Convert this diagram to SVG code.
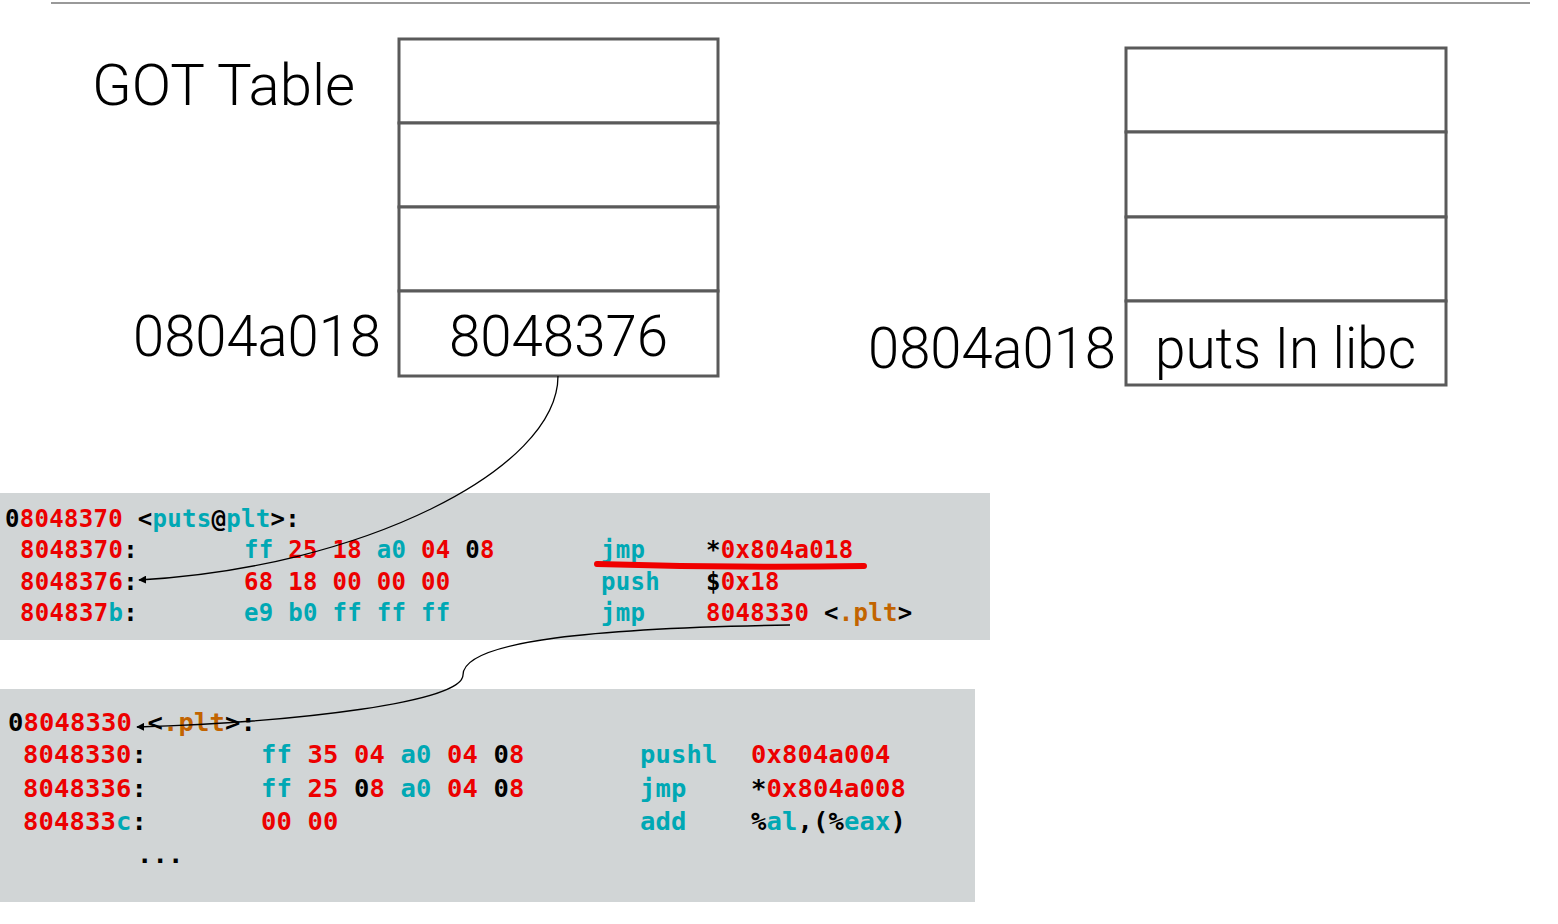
<svg xmlns="http://www.w3.org/2000/svg" width="1558" height="924" viewBox="0 0 1558 924">
<defs>
<style>
.big{font-family:"Roboto","Liberation Sans",sans-serif;font-weight:300;font-size:58px;fill:#000}
.cell{fill:#fff;stroke:#5a5a5a;stroke-width:3}
.code1{font-family:"DejaVu Sans Mono",monospace;font-weight:bold;font-size:24px;letter-spacing:0.3px;white-space:pre}
.code2{font-family:"DejaVu Sans Mono",monospace;font-weight:bold;font-size:25.5px;letter-spacing:0.15px;white-space:pre}
.k{fill:#000}.r{fill:#ec0000}.t{fill:#00a8b4}.o{fill:#c26400}
.conn{fill:none;stroke:#000;stroke-width:1.3}
</style>
<marker id="arr" viewBox="0 0 10 10" refX="9" refY="5" markerWidth="8" markerHeight="8" orient="auto" markerUnits="userSpaceOnUse">
<path d="M0,0 L10,5 L0,10 Z" fill="#000"/>
</marker>
</defs>
<rect width="1558" height="924" fill="#fff"/>
<line x1="51" y1="3" x2="1530" y2="3" stroke="#999" stroke-width="2"/>

<g id="got-table">
<text class="big" x="92" y="105" textLength="263" lengthAdjust="spacingAndGlyphs">GOT Table</text>
<rect class="cell" x="399" y="39" width="319" height="84"/>
<rect class="cell" x="399" y="123" width="319" height="84"/>
<rect class="cell" x="399" y="207" width="319" height="84"/>
<rect class="cell" x="399" y="291" width="319" height="85"/>
<text class="big" x="133" y="356" textLength="248" lengthAdjust="spacingAndGlyphs">0804a018</text>
<text class="big" x="449" y="356" textLength="219" lengthAdjust="spacingAndGlyphs">8048376</text>
</g>

<g id="libc-table">
<rect class="cell" x="1126" y="48" width="320" height="84"/>
<rect class="cell" x="1126" y="132" width="320" height="85"/>
<rect class="cell" x="1126" y="217" width="320" height="84"/>
<rect class="cell" x="1126" y="301" width="320" height="84"/>
<text class="big" x="868" y="368" textLength="248" lengthAdjust="spacingAndGlyphs">0804a018</text>
<text class="big" x="1155" y="368" textLength="261" lengthAdjust="spacingAndGlyphs">puts In libc</text>
</g>

<g id="puts-plt">
<rect x="0" y="493" width="990" height="147" fill="#d1d5d6"/>
<text class="code1" x="5" y="527"><tspan class="k">0</tspan><tspan class="r">8048370</tspan><tspan class="k"> &lt;</tspan><tspan class="t">puts</tspan><tspan class="k">@</tspan><tspan class="t">plt</tspan><tspan class="k">&gt;:</tspan></text>
<text class="code1" y="558"><tspan x="20" class="r">8048370</tspan><tspan class="k">:</tspan><tspan x="244" class="t">ff</tspan><tspan class="r"> 25 18 </tspan><tspan class="t">a0</tspan><tspan class="r"> 04 </tspan><tspan class="k">0</tspan><tspan class="r">8</tspan><tspan x="601" class="t">jmp</tspan><tspan x="706" class="k">*</tspan><tspan class="r">0x804a018</tspan></text>
<text class="code1" y="590"><tspan x="20" class="r">8048376</tspan><tspan class="k">:</tspan><tspan x="244" class="r">68 18 00 00 00</tspan><tspan x="601" class="t">push</tspan><tspan x="706" class="k">$</tspan><tspan class="r">0x18</tspan></text>
<text class="code1" y="621"><tspan x="20" class="r">804837</tspan><tspan class="t">b</tspan><tspan class="k">:</tspan><tspan x="244" class="t">e9 b0 ff ff ff</tspan><tspan x="601" class="t">jmp</tspan><tspan x="706" class="r">8048330</tspan><tspan class="k"> &lt;</tspan><tspan class="o">.plt</tspan><tspan class="k">&gt;</tspan></text>
<path d="M597,564 Q730,568 864,566" fill="none" stroke="#f00000" stroke-width="6" stroke-linecap="round"/>
</g>

<g id="plt">
<rect x="0" y="689" width="975" height="213" fill="#d1d5d6"/>
<text class="code2" x="8" y="731"><tspan class="k">0</tspan><tspan class="r">8048330</tspan><tspan class="k"> &lt;</tspan><tspan class="o">.plt</tspan><tspan class="k">&gt;:</tspan></text>
<text class="code2" y="763"><tspan x="23" class="r">8048330</tspan><tspan class="k">:</tspan><tspan x="261" class="t">ff</tspan><tspan class="r"> 35 04 </tspan><tspan class="t">a0</tspan><tspan class="r"> 04 </tspan><tspan class="k">0</tspan><tspan class="r">8</tspan><tspan x="640" class="t">pushl</tspan><tspan x="751" class="r">0x804a004</tspan></text>
<text class="code2" y="797"><tspan x="23" class="r">8048336</tspan><tspan class="k">:</tspan><tspan x="261" class="t">ff</tspan><tspan class="r"> 25 </tspan><tspan class="k">0</tspan><tspan class="r">8 </tspan><tspan class="t">a0</tspan><tspan class="r"> 04 </tspan><tspan class="k">0</tspan><tspan class="r">8</tspan><tspan x="640" class="t">jmp</tspan><tspan x="751" class="k">*</tspan><tspan class="r">0x804a008</tspan></text>
<text class="code2" y="830"><tspan x="23" class="r">804833</tspan><tspan class="t">c</tspan><tspan class="k">:</tspan><tspan x="261" class="r">00 00</tspan><tspan x="640" class="t">add</tspan><tspan x="751" class="k">%</tspan><tspan class="t">al</tspan><tspan class="k">,(%</tspan><tspan class="t">eax</tspan><tspan class="k">)</tspan></text>
<text class="code2 k" x="137" y="863">...</text>
</g>

<g id="connectors">
<path class="conn" d="M558,376 C558,470 360,568 139,580" marker-end="url(#arr)"/>
<path class="conn" d="M790,625 C600,628 463,640 463,675 C463,702 300,722 137,727" marker-end="url(#arr)"/>
</g>
</svg>
